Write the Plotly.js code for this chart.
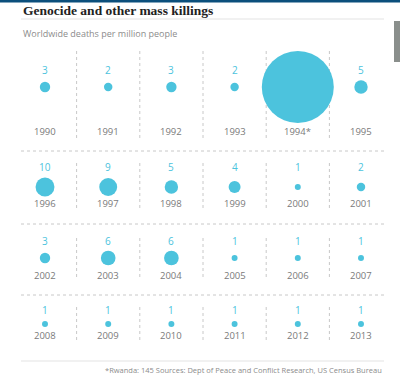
<!DOCTYPE html>
<html>
<head>
<meta charset="utf-8">
<script src="https://cdn.plot.ly/plotly-3.0.1.min.js"></script>
<style>html,body{margin:0;padding:0;background:#fff;}#chart{width:400px;height:389px;}</style>
</head>
<body>
<div id="chart"></div>
<script>
// ---- data ----
var years = [1990,1991,1992,1993,1994,1995,1996,1997,1998,1999,2000,2001,2002,2003,2004,2005,2006,2007,2008,2009,2010,2011,2012,2013];
var deaths = [3,2,3,2,145,5,10,9,5,4,1,2,3,6,6,1,1,1,1,1,1,1,1,1];
var footnoteYear = 1994;
var titleText = 'Genocide and other mass killings';
var subtitleText = 'Worldwide deaths per million people';
var footerText = '*Rwanda: 145 Sources: Dept of Peace and Conflict Research, US Census Bureau';

// ---- layout constants (pixels) ----
var W = 400, H = 389, perRow = 6;
var colX0 = 45, colStep = 63.2;
var rowCenter = [87, 187, 258, 324];
var valueOffset = [-17, -20, -17, -14];
var yearOffset = [44, 16, 17, 11];
var sepSpan = [[51,138],[163,210],[238,280],[307,340]];
var hLines = [151, 224, 295];
var blue = '#4cc3dd';
var maxDiam = 72;

var xs = [], ys = [], annotations = [], shapes = [];
for (var i = 0; i < years.length; i++) {
  var c = i % perRow, r = Math.floor(i / perRow);
  xs.push(c); ys.push(rowCenter[r]);
  var isFoot = years[i] === footnoteYear;
  if (!isFoot) {
    annotations.push({x: c, y: rowCenter[r] + valueOffset[r], xref: 'x', yref: 'y', text: String(deaths[i]),
      showarrow: false, xanchor: 'center', yanchor: 'middle', font: {family: 'Open Sans', size: 10, color: blue}});
  }
  annotations.push({x: c, y: rowCenter[r] + yearOffset[r], xref: 'x', yref: 'y', text: String(years[i]) + (isFoot ? '*' : ''),
    showarrow: false, xanchor: 'center', yanchor: 'middle', font: {family: 'Open Sans', size: 9.5, color: '#7a7a7a'}});
}
// column separators
for (var r = 0; r < rowCenter.length; r++) {
  for (var c = 0; c < perRow - 1; c++) {
    shapes.push({type: 'line', xref: 'x', yref: 'y', x0: c + 0.5, x1: c + 0.5, y0: sepSpan[r][0], y1: sepSpan[r][1],
      line: {color: '#c8c8c8', width: 1, dash: 'dot'}, layer: 'below'});
  }
}
var xL = 21 / W, xR = 384 / W;
hLines.forEach(function (y) {
  shapes.push({type: 'line', xref: 'paper', yref: 'y', x0: xL, x1: xR, y0: y, y1: y,
    line: {color: '#c8c8c8', width: 1, dash: 'dot'}, layer: 'below'});
});
// solid rules
[19, 361].forEach(function (y) {
  shapes.push({type: 'line', xref: 'paper', yref: 'y', x0: xL, x1: xR, y0: y, y1: y,
    line: {color: '#e3e3e3', width: 1}, layer: 'below'});
});
// top brand bar
shapes.push({type: 'rect', xref: 'paper', yref: 'y', x0: 0, x1: 1, y0: 0, y1: 2.5, fillcolor: '#0b4f7c', line: {width: 0}, layer: 'below'});
// right-edge strip
shapes.push({type: 'rect', xref: 'paper', yref: 'y', x0: 394 / W, x1: 1, y0: 21, y1: 62, fillcolor: '#8a8f8c', line: {width: 0}, layer: 'below'});

annotations.push({xref: 'paper', yref: 'y', x: xL, y: 10.5, xanchor: 'left', yanchor: 'middle', showarrow: false,
  text: '<b>' + titleText + '</b>', font: {family: 'Liberation Serif', size: 13.5, color: '#222'}});
annotations.push({xref: 'paper', yref: 'y', x: xL, y: 33.5, xanchor: 'left', yanchor: 'middle', showarrow: false,
  text: subtitleText, font: {family: 'Open Sans', size: 9, color: '#8c8c8c'}});
annotations.push({xref: 'paper', yref: 'y', x: xR, y: 370, xanchor: 'right', yanchor: 'middle', showarrow: false,
  text: footerText, font: {family: 'Open Sans', size: 7.5, color: '#8c8c8c'}});

var trace = {
  type: 'scatter', mode: 'markers', x: xs, y: ys, hoverinfo: 'skip',
  marker: {size: deaths, sizemode: 'area', sizeref: 2 * Math.max.apply(null, deaths) / (maxDiam * maxDiam),
    color: blue, line: {width: 0}, opacity: 1}
};

var layout = {
  width: W, height: H, margin: {l: 0, r: 0, t: 0, b: 0, pad: 0},
  paper_bgcolor: '#fff', plot_bgcolor: '#fff', showlegend: false,
  xaxis: {range: [-colX0 / colStep, (W - colX0) / colStep], visible: false, fixedrange: true},
  yaxis: {range: [H, 0], visible: false, fixedrange: true},
  annotations: annotations, shapes: shapes
};
Plotly.newPlot('chart', [trace], layout, {displayModeBar: false, staticPlot: true});
</script>
</body>
</html>
